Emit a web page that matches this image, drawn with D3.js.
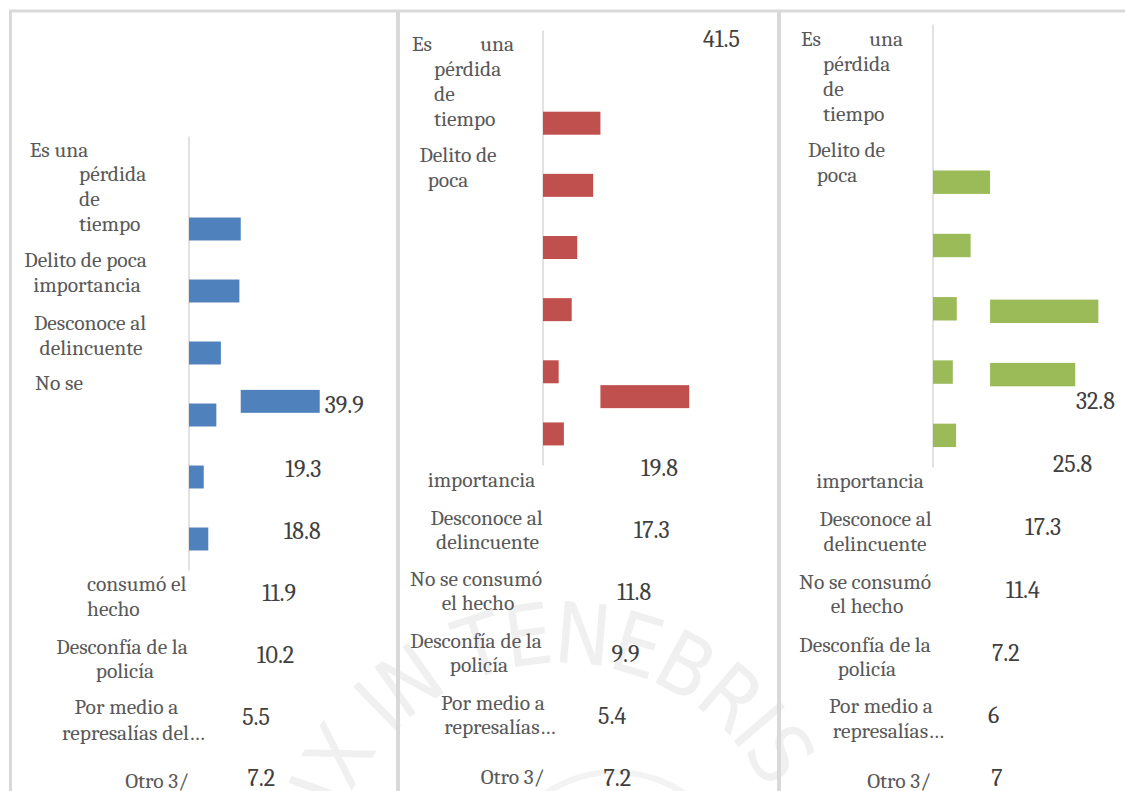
<!DOCTYPE html>
<html><head><meta charset="utf-8">
<script src="https://cdn.jsdelivr.net/npm/d3@7"></script>
<style>body{margin:0;background:#fff;} svg{display:block;}</style>
</head><body>
<svg id="chart" width="1125" height="791"></svg>
<script>
// ---------------- DATA ----------------
const categories = ["Es una pérdida de tiempo","Delito de poca importancia","Desconoce al delincuente","No se consumó el hecho","Desconfía de la policía","Por medio a represalías del...","Otro 3/"];
const valuesBlue  = [39.9, 19.3, 18.8, 11.9, 10.2, 5.5, 7.2];
const valuesRed   = [41.5, 19.8, 17.3, 11.8, 9.9, 5.4, 7.2];
const valuesGreen = [32.8, 25.8, 17.3, 11.4, 7.2, 6, 7];
// tick label text fragments, as they appear wrapped in the picture
const tickTextBlue  = ["Es una","pérdida","de","tiempo","Delito de poca","importancia","Desconoce al","delincuente","No se","consumó el","hecho","Desconfía de la","policía","Por medio a","represalías del…","Otro 3/"];
const tickTextRed   = ["Es","una","pérdida","de","tiempo","Delito de","poca","importancia","Desconoce al","delincuente","No se consumó","el hecho","Desconfía de la","policía","Por medio a","represalías…","Otro 3/"];
const tickTextGreen = ["Es","una","pérdida","de","tiempo","Delito de","poca","importancia","Desconoce al","delincuente","No se consumó","el hecho","Desconfía de la","policía","Por medio a","represalías…","Otro 3/"];
const watermarkText = "LUX IN TENEBRIS LUCET";

// ---------------- LAYOUT ----------------
const panels = [
  { values: valuesBlue, color: "#4f81bd", tickText: tickTextBlue,
    axisX: 189, axisTop: 136, axisBottom: 570, k: 2.68,
    small: [1,2,3,4,5,6],
    moved: [{i:0, row:3.78, startIdx:1, k:1.98}],
    lab: {a:225, b:3.12, y0:469, step:61.8, first:1},
    labSpecial: {0: "barEnd"},
    tickPos: [[59,149,"middle"],[79,173,"start"],[79,198,"start"],[79,223,"start"],[85.5,259,"middle"],[87,284,"middle"],[90,322,"middle"],[91,347,"middle"],[35,382,"start"],[87,583,"start"],[87,608,"start"],[122,646,"middle"],[125,670,"middle"],[126.5,706,"middle"],[133.5,732,"middle"],[157,780,"middle"]]
  },
  { values: valuesRed, color: "#c0504d", tickText: tickTextRed,
    axisX: 543, axisTop: 30, axisBottom: 465, k: 2.9,
    small: [1,2,3,4,5,6],
    moved: [{i:0, row:5.40, startIdx:1, k:2.14}],
    lab: {a:581.9, b:2.99, y0:468, step:62, first:1},
    labSpecial: {0: [703, 39]},
    tickPos: [[412,43,"start"],[514,43,"end"],[434,68,"start"],[434,93,"start"],[434,118,"start"],[458,154,"middle"],[448,179,"middle"],[481.5,479,"middle"],[486.5,517,"middle"],[487.5,541,"middle"],[476,578,"middle"],[478,602,"middle"],[476,640,"middle"],[479,664,"middle"],[493,702,"middle"],[500,726,"middle"],[512.5,776,"middle"]]
  },
  { values: valuesGreen, color: "#9bbb59", tickText: tickTextGreen,
    axisX: 933, axisTop: 24, axisBottom: 467, k: 3.3,
    small: [2,3,4,5,6],
    moved: [{i:0, row:4.04, startIdx:2, k:3.3},{i:1, row:5.04, startIdx:2, k:3.3}],
    lab: {a:968.3, b:3.28, y0:401, step:62.8, first:0},
    labSpecial: {},
    tickPos: [[801,38,"start"],[903,38,"end"],[823,63,"start"],[823,88,"start"],[823,113,"start"],[846.5,149,"middle"],[837,174,"middle"],[870,480,"middle"],[875.5,518,"middle"],[875,543,"middle"],[865,581,"middle"],[867,605,"middle"],[865,644,"middle"],[867,668,"middle"],[881,705,"middle"],[888.5,730,"middle"],[899,780,"middle"]]
  }
];

const svg = d3.select("#chart");
const FONT = "Caladea";
const LABEL_SIZE = 21.5, VALUE_SIZE = 24;

// faint watermark seal
const wm = svg.append("g");
const cx = 560, cy = 895, r = 232;
wm.append("path").attr("id","wmArc")
  .attr("d", `M ${cx - r} ${cy} A ${r} ${r} 0 0 1 ${cx + r} ${cy}`)
  .attr("fill","none");
wm.append("text")
  .attr("font-family","DejaVu Sans Condensed")
  .attr("font-size", 84).attr("fill","#f0f0f0").attr("letter-spacing", -3)
  .append("textPath").attr("href","#wmArc").attr("startOffset", 18)
  .text(watermarkText);
wm.append("path")
  .attr("d", d3.arc()({innerRadius:120, outerRadius:126, startAngle:-Math.PI/2, endAngle:Math.PI/2}))
  .attr("transform",`translate(${cx + 55},${cy})`).attr("fill","#f3f3f3");

// frames
const frame = svg.append("g").attr("stroke","#d9d9d9").attr("fill","none");
frame.append("line").attr("x1",9).attr("x2",1125).attr("y1",11).attr("y2",11).attr("stroke-width",3);
frame.append("line").attr("x1",10.5).attr("x2",10.5).attr("y1",10).attr("y2",791).attr("stroke-width",3);
frame.append("line").attr("x1",398).attr("x2",398).attr("y1",10).attr("y2",791).attr("stroke-width",4);
frame.append("line").attr("x1",779).attr("x2",779).attr("y1",10).attr("y2",791).attr("stroke-width",4);

panels.forEach(p => {
  const g = svg.append("g");
  const y = d3.scaleBand().domain(categories).range([p.axisTop, p.axisBottom])
    .paddingInner(0.63).paddingOuter(0.315);
  const x = d3.scaleLinear().domain([0, 45]).range([p.axisX, p.axisX + 45 * p.k]);
  const rowY = d3.scaleLinear().domain([0, 1]).range([p.axisTop + y.step()*y.paddingOuter(), p.axisTop + y.step()*(1 + y.paddingOuter())]);

  // axis line
  const axis = d3.axisLeft(y).tickSize(0).tickFormat("");
  const ag = g.append("g").attr("transform", `translate(${p.axisX - 0.5},0)`).call(axis);
  ag.select(".domain").attr("stroke","#d9d9d9").attr("stroke-width",1.5);

  // bars in their own rows
  g.selectAll("rect.small").data(p.small).join("rect").attr("class","small")
    .attr("x", x(0)).attr("y", i => y(categories[i]))
    .attr("width", i => x(p.values[i]) - x(0)).attr("height", y.bandwidth())
    .attr("fill", p.color);

  // displaced bars
  p.moved.forEach(m => {
    const x0 = x(p.values[m.startIdx]);
    const xm = d3.scaleLinear().domain([0, 45]).range([x0, x0 + 45 * m.k]);
    g.append("rect").attr("x", xm(0)).attr("y", rowY(m.row))
      .attr("width", xm(p.values[m.i]) - xm(0)).attr("height", y.bandwidth())
      .attr("fill", p.color);
    if (p.labSpecial[m.i] === "barEnd") {
      g.append("text").attr("x", xm(p.values[m.i]) + 5).attr("y", rowY(m.row) + y.bandwidth()/2 + 3)
        .attr("dy","0.35em").attr("font-family",FONT).attr("font-size",VALUE_SIZE).attr("fill","#404040")
        .text(p.values[m.i]);
    }
  });

  // value labels
  const lx = d3.scaleLinear().domain([0, 40]).range([p.lab.a, p.lab.a + 40 * p.lab.b]);
  const ly = d3.scaleLinear().domain([p.lab.first, p.lab.first + 1]).range([p.lab.y0, p.lab.y0 + p.lab.step]);
  p.values.forEach((v, i) => {
    const sp = p.labSpecial[i];
    if (sp === "barEnd") return;
    let px, py;
    if (Array.isArray(sp)) { px = sp[0]; py = sp[1]; } else { px = lx(v); py = ly(i); }
    g.append("text").attr("x", px).attr("y", py).attr("dy","0.35em")
      .attr("font-family",FONT).attr("font-size",VALUE_SIZE).attr("fill","#404040")
      .text(v);
  });

  // tick label fragments
  g.selectAll("text.tick").data(p.tickText).join("text").attr("class","tick")
    .attr("x", (d,i) => p.tickPos[i][0]).attr("y", (d,i) => p.tickPos[i][1])
    .attr("text-anchor", (d,i) => p.tickPos[i][2]).attr("dy","0.35em")
    .attr("font-family",FONT).attr("font-size",LABEL_SIZE).attr("fill","#595959")
    .text(d => d);
});
</script>
</body></html>
